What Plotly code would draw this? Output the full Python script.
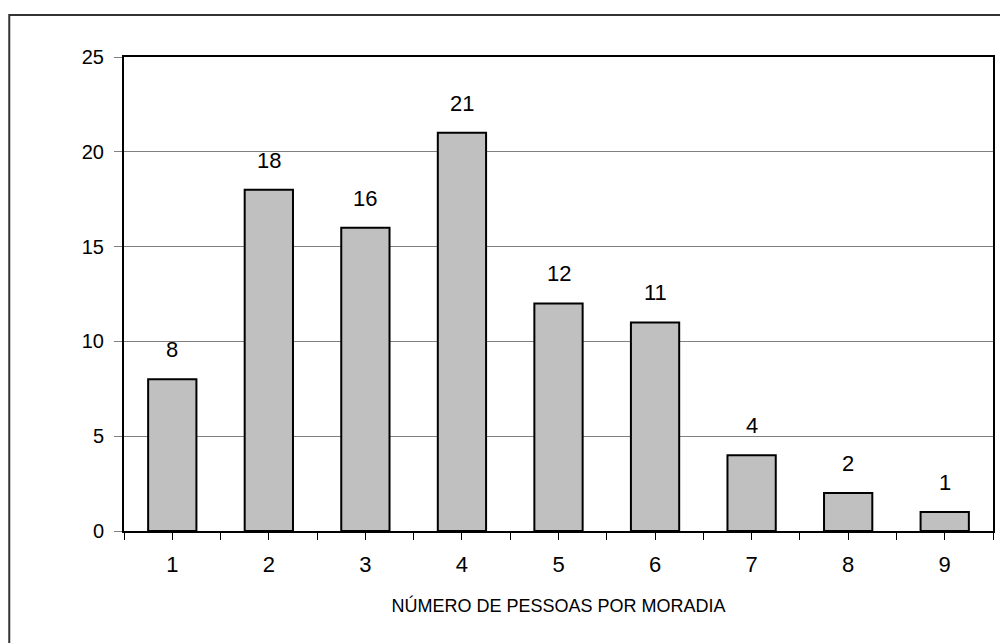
import plotly.graph_objects as go

categories = ["1", "2", "3", "4", "5", "6", "7", "8", "9"]
values = [8, 18, 16, 21, 12, 11, 4, 2, 1]
y_ticks = [0, 5, 10, 15, 20, 25]
x_title = "NÚMERO DE PESSOAS POR MORADIA"

W, H = 1000, 643
L, T = 124, 57
pw, ph = 871, 474
R, B = W - L - pw, H - T - ph

def px_x(p):
    return (p - L) / pw

def px_y(p):
    return (H - B - p) / ph

fig = go.Figure()
fig.add_trace(go.Bar(
    x=list(range(len(categories))), y=values,
    marker=dict(color="#C0C0C0", line=dict(color="#000000", width=2)),
    width=0.5,
    hoverinfo="skip",
))

for i, v in enumerate(values):
    fig.add_annotation(x=i, y=v, text=str(v), showarrow=False,
                       yanchor="bottom", yshift=15,
                       font=dict(family="Liberation Sans, Arial", size=22, color="#000000"))

# outer chart frame
fig.add_shape(type="rect", xref="paper", yref="paper",
              x0=px_x(9), x1=px_x(1020), y0=px_y(680), y1=px_y(15),
              line=dict(color="#333333", width=2), fillcolor="rgba(0,0,0,0)", layer="below")

fig.update_layout(
    width=W, height=H,
    margin=dict(l=L, r=R, t=T, b=B, pad=0),
    paper_bgcolor="white", plot_bgcolor="white",
    showlegend=False,
    font=dict(family="Liberation Sans, Arial", color="#000000"),
    xaxis=dict(
        range=[-0.5, 8.5],
        tickvals=list(range(len(categories))),
        ticktext=categories,
        showline=True, linecolor="#000000", linewidth=2, mirror=True,
        showgrid=False, zeroline=False,
        ticks="outside", ticklen=7, tickcolor="#000000", tickwidth=1,
        minor=dict(tickvals=[i + 0.5 for i in range(-1, len(categories))],
                   ticks="outside", ticklen=7, tickcolor="#000000", tickwidth=1, showgrid=False),
        tickfont=dict(size=22),
        ticklabelstandoff=6,
        title=dict(text=x_title, font=dict(size=18), standoff=23),
    ),
    yaxis=dict(
        range=[0, 25],
        tickvals=y_ticks,
        showline=True, linecolor="#000000", linewidth=2, mirror=True,
        showgrid=True, gridcolor="#808080", gridwidth=1,
        zeroline=False,
        ticks="outside", ticklen=8, tickcolor="#808080", tickwidth=1,
        tickfont=dict(size=20),
        ticklabelstandoff=6,
    ),
)

fig.write_html("out.html",
               config={"displayModeBar": False},
               post_script="document.body.style.margin='0';document.body.style.overflow='hidden';")
